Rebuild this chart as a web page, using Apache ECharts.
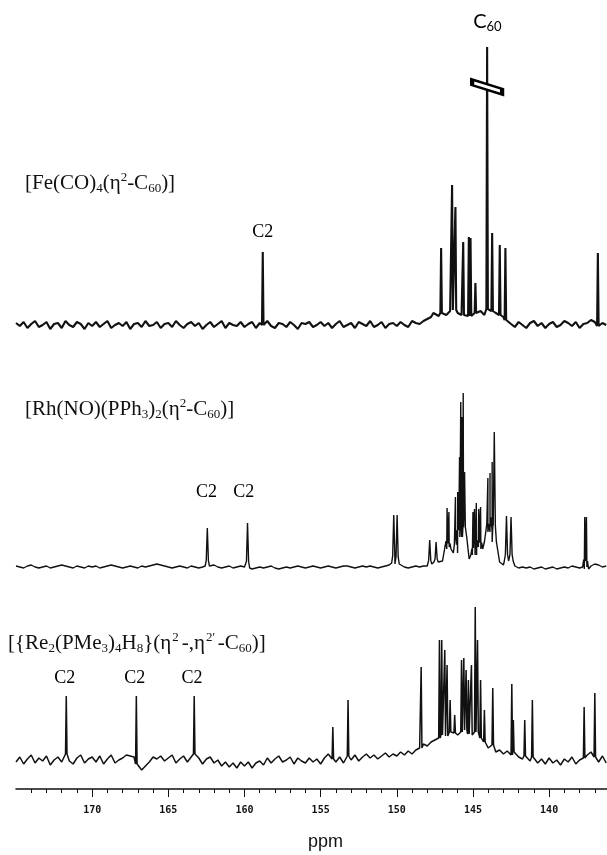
<!DOCTYPE html>
<html>
<head>
<meta charset="utf-8">
<script src="https://cdn.jsdelivr.net/npm/echarts@6/dist/echarts.min.js"></script>
<style>
html, body { margin: 0; padding: 0; background: #fff; }
#main { width: 607px; height: 855px; }
</style>
</head>
<body>
<div id="main"></div>
<script>
// ppm axis
var ppmMin = 136.2;
var ppmMax = 175;
var majorTicks = [140, 145, 150, 155, 160, 165, 170];
var minorTicks = [137, 138, 139, 141, 142, 143, 144, 146, 147, 148, 149, 151, 152, 153, 154,
    156, 157, 158, 159, 161, 162, 163, 164, 166, 167, 168, 169, 171, 172, 173, 174];

// baseline samples every 0.25 ppm from 175 down to 136.25
var baseStart = 175;
var baseStep = 0.25;

var feBase = [
    2, -1, 3, -3, 1, 4, -2, 0, 3, -4, 1, 2, -3, 4, 0, -2, 3, 1, -4, 2,
    -1, 3, -2, 1, 4, -3, 0, 2, -1, 3, -4, 1, 2, -2, 4, -1, 0, 3, -3, 1,
    2, -2, 4, 0, -3, 1, 3, -1, 2, -4, 0, 3, -2, 1, 4, -3, 2, 0, -1, 3,
    -2, 1, 3, -3, 2, 0, 4, -1, -3, 2, 1, -2, 3, 0, -4, 2, 1, 3, -2, 0,
    3, -1, 2, -3, 1, 4, -2, 0, 2, -3, 3, 1, -1, 4, -2, 0, 3, -3, 1, 2,
    -1, 3, 0, -2, 4, 2, 1, 4, 6, 8, 10, 9, 12, 10, 14, 15, 12, 10, 12, 9,
    10, 12, 14, 10, 16, 14, 12, 10, 8, 5, 1, -2, 3, 0, -3, 2, 4, -1, 2, -3,
    1, 3, -2, 0, 4, 2, -1, 3, -3, 1, 2, 5, 3, -1, 2, 0
];
var fePeaks = [
    [158.8, 73], [147.6, 12], [147.09, 77], [146.37, 140], [146.15, 118], [145.64, 83],
    [145.27, 88], [145.16, 87], [144.84, 42], [144.07, 278], [143.74, 92],
    [143.24, 80], [142.87, 77], [136.8, 72]
];

var rhBase = [
    1, 0, -1, 1, 2, 0, -1, 0, 1, -1, 0, 1, 2, 1, 0, -1, 1, 0, -1, 1,
    0, 1, -1, 0, 1, 2, 1, 0, -1, 0, 1, 0, -1, 1, 0, 1, 2, 3, 2, 1,
    0, -1, 0, 1, 0, -1, 1, 0, -1, 0, 1, 1, 2, 0, -1, 0, 1, -1, 0, 1,
    0, -1, -2, -1, 0, -1, 0, 1, -1, -2, -1, 0, -1, 0, 1, 0, -1, 0, 1, 0,
    -1, 0, 1, 0, -1, 0, 1, 1, 0, -1, 0, 1, 0, 1, 0, -1, 0, 1, 2, 4,
    3, 1, 0, -1, 0, 1, 0, 1, 1, 3, 5, 3, 6, 20, 18, 14, 30, 40, 30, 8,
    12, 20, 18, 25, 35, 40, 25, 5, 2, 6, 6, 1, -1, 0, -1, 0, -2, -1, 0, -2,
    -1, 0, -2, -1, 0, -1, 1, 0, -1, 0, -2, 1, 3, 2, 0, 1
];
var rhPeaks = [
    [162.44, 39], [159.8, 44], [150.2, 52], [149.98, 52], [147.84, 27], [147.42, 25],
    [146.7, 59], [146.58, 55], [146.15, 70], [146.0, 75], [145.88, 110], [145.8, 165],
    [145.72, 150], [145.64, 174], [145.55, 95], [145.0, 55], [144.9, 58], [144.78, 64],
    [144.62, 58], [144.5, 60], [144.02, 89], [143.88, 94], [143.74, 105], [143.6, 135],
    [142.8, 51], [142.5, 50], [137.66, 50], [137.55, 50]
];

var reBase = [
    -2, 3, -4, 1, 5, -3, 2, -1, 4, -5, 0, 3, -2, 6, -1, -4, 2, 5, -3, 1,
    3, -2, 4, -4, 1, 5, -3, 0, 2, 5, 4, 3, -4, -10, -6, -2, 3, 1, 4, -1,
    2, 5, -3, 1, 4, -2, 3, 6, 2, -4, 1, 3, -3, 0, -6, -2, -7, -3, -8, -2,
    -6, -2, -8, -3, -1, -5, 2, -3, 1, 4, -2, 0, 3, -4, 2, -1, -3, 2, -2, 1,
    -4, 2, 6, 1, -2, 3, -3, 4, 0, 5, -1, 3, 6, 2, 5, 1, 4, 7, 3, 6,
    4, 8, 5, 9, 6, 10, 12, 16, 14, 18, 20, 22, 25, 24, 28, 27, 25, 28, 30, 26,
    25, 28, 22, 18, 12, 15, 8, 10, 6, 9, 5, 8, 3, 1, 4, -1, 3, -3, 1, -4,
    2, -3, 0, -5, 1, -2, 3, -4, 0, 2, 5, 8, 3, -2, 4, -3
];
var rePeaks = [
    [171.7, 64], [167.1, 64], [163.3, 64], [154.2, 33], [153.2, 60], [148.4, 93],
    [147.2, 120], [147.05, 120], [146.85, 110], [146.7, 95], [146.5, 60], [146.2, 45],
    [145.75, 100], [145.6, 102], [145.45, 90], [145.3, 80], [145.1, 95], [144.85, 153],
    [144.7, 120], [144.5, 80], [144.25, 50], [143.7, 72], [142.45, 76], [142.35, 40],
    [141.6, 40], [141.1, 60], [137.7, 53], [137.0, 67]
];

// annotations
var feLabels = [[158.8, 93, 'C2']];
var rhLabels = [[162.5, 75, 'C2'], [160.05, 75, 'C2']];
var reLabels = [[171.8, 82, 'C2'], [167.2, 82, 'C2'], [163.45, 82, 'C2']];
var c60Label = [[144.05, 303]];
var c60Break = [[144.07, 238]];

function trace(base, peaks, w, shoulder) {
    var pts = [];
    var reach = shoulder ? w * 2 : w;
    base.forEach(function (v, i) {
        var x = baseStart - i * baseStep;
        var near = peaks.some(function (p) { return Math.abs(p[0] - x) < reach; });
        if (!near) pts.push([x, v]);
    });
    peaks.forEach(function (p) {
        var foot = base[Math.round((baseStart - p[0]) / baseStep)];
        pts.push([p[0] - w, foot], [p[0], p[1]], [p[0] + w, foot]);
        if (shoulder) {
            var s = foot + (p[1] - foot) * 0.15;
            pts[pts.length - 3][1] = s;
            pts[pts.length - 1][1] = s;
            pts.push([p[0] - 2 * w, foot], [p[0] + 2 * w, foot]);
        }
    });
    pts.sort(function (a, b) { return b[0] - a[0]; });
    return pts;
}

var ink = '#111';
var serif = 'Liberation Serif';

// parts: [style, text]; an empty style means plain text (used for the "}" brace)
function formula(parts) {
    return parts.map(function (p) { return p[0] ? '{' + p[0] + '|' + p[1] + '}' : p[1]; }).join('');
}
var richSerif = {
    n: { fontFamily: serif, fontSize: 21, fontWeight: 'normal', color: ink, lineHeight: 24 },
    sub: { fontFamily: serif, fontSize: 13, fontWeight: 'normal', color: ink, lineHeight: 10, verticalAlign: 'bottom' },
    sup: { fontFamily: serif, fontSize: 13, fontWeight: 'normal', color: ink, lineHeight: 10, verticalAlign: 'top' },
    supw: { fontFamily: serif, fontSize: 13, fontWeight: 'normal', color: ink, lineHeight: 10, verticalAlign: 'top', padding: [0, 3, 0, 1] }
};
var titleStyle = { fontFamily: serif, fontSize: 21, fontWeight: 'normal', color: ink, lineHeight: 24, rich: richSerif };

var xCommon = {
    type: 'value', min: ppmMin, max: ppmMax, inverse: true
};

var myChart = echarts.init(document.getElementById('main'));

var option = {
    backgroundColor: '#fff',
    animation: false,
    title: [
        {
            left: 25, top: 171, padding: 0,
            text: formula([['n', '[Fe(CO)'], ['sub', '4'], ['n', '(η'], ['sup', '2'], ['n', '-C'], ['sub', '60'], ['n', ')]']]),
            textStyle: titleStyle
        },
        {
            left: 25, top: 397, padding: 0,
            text: formula([['n', '[Rh(NO)(PPh'], ['sub', '3'], ['n', ')'], ['sub', '2'], ['n', '(η'], ['sup', '2'], ['n', '-C'], ['sub', '60'], ['n', ')]']]),
            textStyle: titleStyle
        },
        {
            left: 8, top: 631, padding: 0,
            text: formula([['n', '[{Re'], ['sub', '2'], ['n', '(PMe'], ['sub', '3'], ['n', ')'], ['sub', '4'], ['n', 'H'], ['sub', '8'],
                ['', '}(η'], ['supw', '2'], ['n', '-,η'], ['supw', '2\''], ['n', '-C'], ['sub', '60'], ['n', ')]']]),
            textStyle: titleStyle
        }
    ],
    grid: [
        { left: 16, right: 0, top: 15, height: 330 },
        { left: 16, right: 0, top: 367, height: 220 },
        { left: 16, right: 0, top: 580, height: 209 }
    ],
    xAxis: [
        Object.assign({ gridIndex: 0, show: false }, xCommon),
        Object.assign({ gridIndex: 1, show: false }, xCommon),
        Object.assign({
            gridIndex: 2, position: 'bottom',
            axisLine: { onZero: false, lineStyle: { color: ink, width: 1.5 } },
            axisTick: { length: 8, customValues: majorTicks, lineStyle: { color: ink, width: 1 } },
            splitLine: { show: false },
            axisLabel: {
                customValues: majorTicks, margin: 16,
                fontFamily: 'DejaVu Sans Mono', fontWeight: 'bold', fontSize: 10, color: ink
            },
            name: 'ppm', nameLocation: 'middle', nameGap: 44,
            nameTextStyle: { fontFamily: 'Liberation Sans', fontSize: 18, color: ink, padding: [0, 0, 0, 28] }
        }, xCommon),
        Object.assign({
            // minor ticks, one per ppm
            gridIndex: 2, position: 'bottom',
            axisLine: { show: false, onZero: false },
            axisTick: { length: 4, customValues: minorTicks, lineStyle: { color: ink, width: 1 } },
            axisLabel: { show: false },
            splitLine: { show: false }
        }, xCommon)
    ],
    yAxis: [
        { gridIndex: 0, type: 'value', min: -20, max: 310, show: false },
        { gridIndex: 1, type: 'value', min: -20, max: 200, show: false },
        { gridIndex: 2, type: 'value', min: -29, max: 180, show: false }
    ],
    series: [
        {
            type: 'line', xAxisIndex: 0, yAxisIndex: 0, showSymbol: false,
            data: trace(feBase, fePeaks, 0.05, false),
            lineStyle: { color: ink, width: 2.1 }
        },
        {
            type: 'line', xAxisIndex: 1, yAxisIndex: 1, showSymbol: false,
            data: trace(rhBase, rhPeaks, 0.07, true),
            lineStyle: { color: ink, width: 1.4 }
        },
        {
            type: 'line', xAxisIndex: 2, yAxisIndex: 2, showSymbol: false,
            data: trace(reBase, rePeaks, 0.05, false),
            lineStyle: { color: ink, width: 1.5 }
        },
        {
            // break mark on the C60 line
            type: 'scatter', xAxisIndex: 0, yAxisIndex: 0, z: 5,
            data: c60Break,
            symbol: 'path://M0,0 L32,10 L32,16 L0,6 Z',
            symbolSize: [30, 15],
            itemStyle: { color: '#fff', borderColor: '#000', borderWidth: 3, opacity: 1 }
        },
        {
            type: 'scatter', xAxisIndex: 0, yAxisIndex: 0, symbolSize: 0,
            data: c60Label,
            itemStyle: { opacity: 1 },
            label: {
                show: true, position: 'inside',
                formatter: '{c|C}{s|60}',
                rich: {
                    c: { fontFamily: 'Lato', fontSize: 20, color: '#000', lineHeight: 22 },
                    s: { fontFamily: 'Lato', fontSize: 13, color: '#000', lineHeight: 9, verticalAlign: 'bottom' }
                }
            }
        },
        {
            type: 'scatter', xAxisIndex: 0, yAxisIndex: 0, symbolSize: 0, data: feLabels,
            itemStyle: { opacity: 1 },
            label: { show: true, position: 'inside', formatter: function (p) { return p.data[2]; }, fontFamily: serif, fontSize: 18, color: '#000' }
        },
        {
            type: 'scatter', xAxisIndex: 1, yAxisIndex: 1, symbolSize: 0, data: rhLabels,
            itemStyle: { opacity: 1 },
            label: { show: true, position: 'inside', formatter: function (p) { return p.data[2]; }, fontFamily: serif, fontSize: 18, color: '#000' }
        },
        {
            type: 'scatter', xAxisIndex: 2, yAxisIndex: 2, symbolSize: 0, data: reLabels,
            itemStyle: { opacity: 1 },
            label: { show: true, position: 'inside', formatter: function (p) { return p.data[2]; }, fontFamily: serif, fontSize: 18, color: '#000' }
        }
    ]
};

myChart.setOption(option);
</script>
</body>
</html>
